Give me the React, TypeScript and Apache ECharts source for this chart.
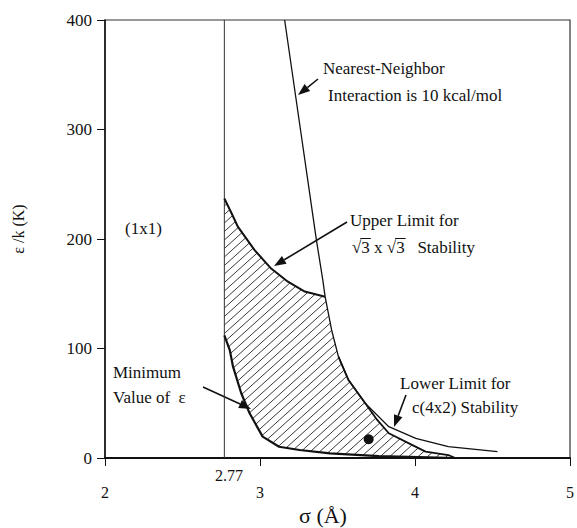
import React, { useEffect, useRef } from "react";
import * as echarts from "echarts";

// Axis ranges (σ in Å, ε/k in K)
const sigmaMin = 2;
const sigmaMax = 5;
const epsMin = 0;
const epsMax = 400;
const sigmaCutoff = 2.77;

// Nearest-neighbour interaction of 10 kcal/mol
const nearestNeighbor: [number, number][] = [
  [3.159, 400], [3.261, 300], [3.364, 199], [3.405, 162.6], [3.42, 147.3],
  [3.462, 116.9], [3.506, 92.5], [3.571, 71.2], [3.679, 50.0], [3.831, 28.6],
  [4.005, 18.0], [4.215, 10.3], [4.532, 5.8],
];

// Upper limit for √3 x √3 stability
const upperLimit: [number, number][] = [
  [2.77, 237], [2.815, 224], [2.858, 211], [2.964, 190], [3.072, 173],
  [3.18, 161], [3.289, 152], [3.42, 147.3],
];

// Lower limit for c(4x2) stability
const lowerLimit: [number, number][] = [
  [3.506, 92.5], [3.571, 71.2], [3.679, 50], [3.755, 35], [3.831, 22.6],
  [3.961, 13.4], [4.068, 5.8], [4.215, 2.7], [4.26, 0],
];

// Minimum value of ε
const minimumEps: [number, number][] = [
  [2.77, 112], [2.805, 98.6], [2.826, 83.4], [2.879, 59.1], [2.933, 40.8],
  [3.017, 19.5], [3.123, 10.3], [3.255, 7.3], [3.452, 4.3], [3.766, 1.8],
  [4.085, 0.5], [4.25, 0],
];

// Highlighted point
const markedPoint: [number, number][] = [[3.701, 17.1]];

// Closed outline of the √3 x √3 stability region
const upperEnd = upperLimit[upperLimit.length - 1][0];
const lowerStart = lowerLimit[0][0];
const stableRegion: [number, number][] = [
  ...upperLimit,
  ...nearestNeighbor.filter(([s]) => s > upperEnd && s < lowerStart),
  ...lowerLimit,
  ...[...minimumEps].reverse(),
];

const FONT = '"Liberation Serif", "Times New Roman", serif';
const INK = "#111111";

// Parallel "/" hatch lines clipped to a pixel polygon
function hatchLines(poly: number[][], step: number, slope: number) {
  const vals = poly.map(([x, y]) => y + slope * x);
  const cMin = Math.min(...vals);
  const cMax = Math.max(...vals);
  const out: any[] = [];
  for (let c = Math.ceil(cMin / step) * step; c <= cMax; c += step) {
    const xs: number[] = [];
    for (let i = 0; i < poly.length; i++) {
      const a = poly[i];
      const b = poly[(i + 1) % poly.length];
      const fa = a[1] + slope * a[0] - c;
      const fb = b[1] + slope * b[0] - c;
      if (fa < 0 !== fb < 0) {
        const t = fa / (fa - fb);
        xs.push(a[0] + t * (b[0] - a[0]));
      }
    }
    xs.sort((p, q) => p - q);
    for (let k = 0; k + 1 < xs.length; k += 2) {
      out.push({
        type: "line",
        shape: { x1: xs[k], y1: c - slope * xs[k], x2: xs[k + 1], y2: c - slope * xs[k + 1] },
        style: { stroke: "#222", lineWidth: 0.9 },
      });
    }
  }
  return out;
}

function arrow(x1: number, y1: number, x2: number, y2: number, len = 12, half = 4.5) {
  const dx = x2 - x1;
  const dy = y2 - y1;
  const d = Math.hypot(dx, dy);
  const ux = dx / d;
  const uy = dy / d;
  const bx = x2 - ux * len;
  const by = y2 - uy * len;
  return [
    { type: "line", shape: { x1, y1, x2: bx, y2: by }, style: { stroke: INK, lineWidth: 1.6 } },
    {
      type: "polygon",
      shape: {
        points: [
          [x2, y2],
          [bx - uy * half, by + ux * half],
          [bx + uy * half, by - ux * half],
        ],
      },
      style: { fill: INK },
    },
  ];
}

function label(text: string, x: number, y: number, size = 17, align = "left") {
  return {
    type: "text",
    x,
    y,
    style: { text, fill: INK, font: `${size}px ${FONT}`, textAlign: align, textVerticalAlign: "middle" },
  };
}

function measure(text: string, size: number) {
  const ctx = document.createElement("canvas").getContext("2d");
  if (!ctx) return text.length * size * 0.5;
  ctx.font = `${size}px ${FONT}`;
  return ctx.measureText(text).width;
}

export default function App() {
  const ref = useRef<HTMLDivElement>(null);

  useEffect(() => {
    if (!ref.current) return;
    const chart = echarts.init(ref.current, undefined, { renderer: "svg" });

    // √3 x √3 line with vinculum bars over the 3s
    const sqX = 352;
    const sqY = 247;
    const sqText = "√3 x √3   Stability";
    const wRad = measure("√", 17);
    const wRad3 = measure("√3", 17);
    const wPre = measure("√3 x ", 17);
    const barY = sqY - 8.5;
    const bars = [
      { type: "line", shape: { x1: sqX + wRad - 1, y1: barY, x2: sqX + wRad3 + 1, y2: barY }, style: { stroke: INK, lineWidth: 1 } },
      { type: "line", shape: { x1: sqX + wPre + wRad - 1, y1: barY, x2: sqX + wPre + wRad3 + 1, y2: barY }, style: { stroke: INK, lineWidth: 1 } },
    ];

    const lineSeries = (data: [number, number][], width: number, z = 3) => ({
      type: "line",
      data,
      showSymbol: false,
      smooth: false,
      lineStyle: { color: INK, width, join: "round" },
      z,
      silent: true,
    });

    chart.setOption({
      animation: false,
      backgroundColor: "#ffffff",
      grid: {
        left: 105,
        right: 3,
        top: 20,
        bottom: 70,
        show: true,
        borderColor: "#333",
        borderWidth: 1.2,
      },
      xAxis: {
        type: "value",
        min: sigmaMin,
        max: sigmaMax,
        interval: 1,
        axisLine: { show: true, lineStyle: { color: INK, width: 2 } },
        axisTick: { show: true, length: 8, lineStyle: { color: INK, width: 1 } },
        axisLabel: { margin: 26, color: INK, fontFamily: "Liberation Serif", fontSize: 16 },
        splitLine: { show: false },
      },
      yAxis: {
        type: "value",
        min: epsMin,
        max: epsMax,
        interval: 100,
        axisLine: { show: true, lineStyle: { color: INK, width: 1.5 } },
        axisTick: { show: true, length: 8, lineStyle: { color: INK, width: 1 } },
        axisLabel: { margin: 13, color: INK, fontFamily: "Liberation Serif", fontSize: 17 },
        splitLine: { show: false },
      },
      series: [
        {
          type: "custom",
          coordinateSystem: "cartesian2d",
          data: [[3, 100]],
          silent: true,
          z: 1,
          renderItem: (_params: any, api: any) => {
            const pts = stableRegion.map((p) => api.coord(p));
            return { type: "group", children: hatchLines(pts, 8.5, Math.tan((42 * Math.PI) / 180)) };
          },
        },
        {
          type: "line",
          data: [[sigmaCutoff, epsMin], [sigmaCutoff, epsMax]],
          showSymbol: false,
          lineStyle: { color: "#333", width: 1 },
          z: 2,
          silent: true,
        },
        lineSeries(nearestNeighbor, 1.3),
        lineSeries(upperLimit, 2),
        lineSeries(lowerLimit, 1.8),
        lineSeries(minimumEps, 2.2),
        {
          type: "scatter",
          data: markedPoint,
          symbol: "circle",
          symbolSize: 10,
          itemStyle: { color: INK, opacity: 1 },
          z: 4,
          silent: true,
        },
      ],
      graphic: [
        label("Nearest-Neighbor", 323, 68),
        label("Interaction is 10 kcal/mol", 328, 95),
        ...arrow(318, 79, 298, 95),
        label("Upper Limit for", 350, 220),
        label(sqText, sqX, sqY),
        ...bars,
        ...arrow(347, 222, 274, 266),
        label("(1x1)", 125, 228),
        label("Minimum", 113, 372),
        label("Value of  ε", 113, 397),
        ...arrow(203, 387, 251, 409),
        label("Lower Limit for", 400, 383),
        label("c(4x2) Stability", 412, 407),
        ...arrow(406, 395, 394, 427),
        label("2.77", 229, 475, 16, "center"),
        {
          type: "text",
          x: 18,
          y: 229,
          rotation: Math.PI / 2,
          style: { text: "ε /k (K)", fill: INK, font: `16px ${FONT}`, textAlign: "center", textVerticalAlign: "middle" },
        },
        label("σ (Å)", 323, 515, 22, "center"),
      ],
    });

    return () => chart.dispose();
  }, []);

  return (
    <div
      ref={ref}
      style={{ position: "absolute", left: 0, top: 0, width: 577, height: 528, background: "#fff" }}
    />
  );
}
